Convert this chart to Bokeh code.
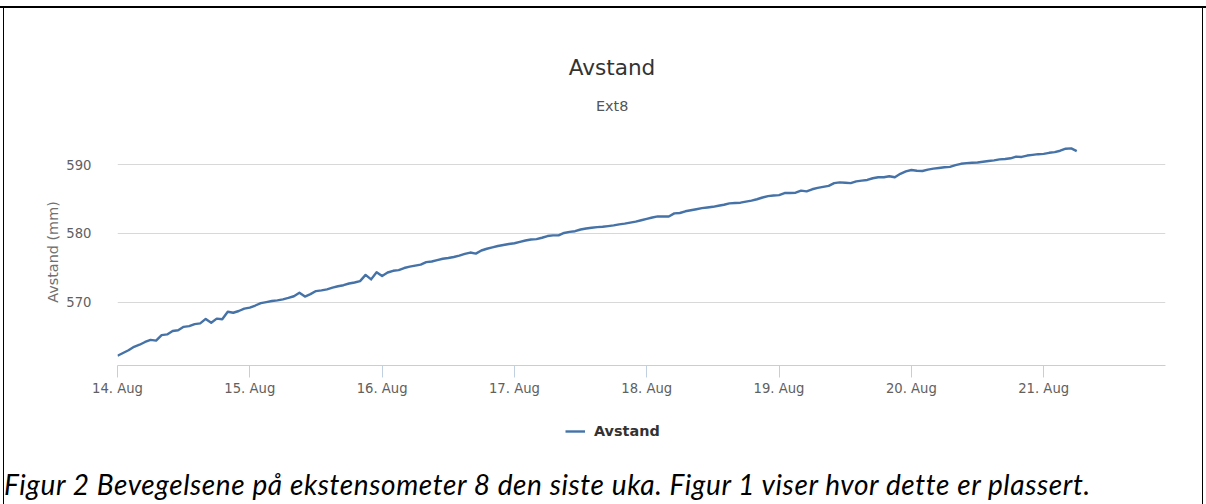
import pandas as pd
from bokeh.plotting import figure
from bokeh.layouts import column
from bokeh.models import (Range1d, DaysTicker, DatetimeTickFormatter, SingleIntervalTicker,
                          Legend, LegendItem, Label, Div)
from bokeh.embed import file_html
from bokeh.resources import INLINE

# ---- data (hourly readings) ----
start_time = "2014-08-14 00:00"
avstand_mm = [
    562.2, 562.6, 563.0, 563.5, 563.8, 564.2, 564.5, 564.4, 565.2, 565.3,
    565.8, 565.9, 566.4, 566.5, 566.8, 566.9, 567.55, 567.0, 567.6, 567.5,
    568.6, 568.45, 568.7, 569.05, 569.2, 569.5, 569.85, 570.0, 570.15, 570.25,
    570.4, 570.6, 570.85, 571.35, 570.8, 571.15, 571.6, 571.7, 571.85, 572.1,
    572.3, 572.45, 572.7, 572.85, 573.05, 573.95, 573.3, 574.35, 573.8, 574.3,
    574.55, 574.65, 574.95, 575.15, 575.3, 575.45, 575.8, 575.9, 576.1, 576.3,
    576.4, 576.55, 576.75, 577.0, 577.2, 577.05, 577.5, 577.75, 577.95, 578.15,
    578.3, 578.45, 578.55, 578.75, 578.95, 579.1, 579.15, 579.35, 579.6, 579.7,
    579.7, 580.05, 580.2, 580.3, 580.55, 580.7, 580.8, 580.9, 580.95, 581.05,
    581.15, 581.3, 581.4, 581.55, 581.7, 581.9, 582.1, 582.3, 582.45, 582.45,
    582.45, 582.9, 582.95, 583.2, 583.35, 583.5, 583.65, 583.75, 583.85, 584.0,
    584.15, 584.35, 584.4, 584.45, 584.6, 584.75, 584.95, 585.2, 585.4, 585.5,
    585.55, 585.85, 585.85, 585.9, 586.2, 586.1, 586.4, 586.6, 586.75, 586.9,
    587.3, 587.4, 587.35, 587.3, 587.55, 587.65, 587.75, 588.0, 588.15, 588.15,
    588.3, 588.15, 588.65, 589.0, 589.2, 589.1, 589.05, 589.25, 589.4, 589.5,
    589.6, 589.65, 589.9, 590.1, 590.2, 590.25, 590.3, 590.4, 590.5, 590.6,
    590.75, 590.8, 590.9, 591.15, 591.1, 591.3, 591.4, 591.5, 591.55, 591.7,
    591.8, 592.0, 592.3, 592.35, 591.95,
]
times = pd.date_range(start_time, periods=len(avstand_mm), freq="h")

title_text = "Avstand"
subtitle_text = "Ext8"
y_title = "Avstand (mm)"
series_name = "Avstand"
caption_text = "Figur 2 Bevegelsene på ekstensometer 8 den siste uka. Figur 1 viser hvor dette er plassert."

x_start = pd.Timestamp("2014-08-14 00:00")
x_end = pd.Timestamp("2014-08-21 22:06")
y_min, y_max = 560.78, 593.78

FONT = "DejaVu Sans"
LINE_COLOR = "#4572A7"
W = 1206
ML, MR = 117, 41          # left / right margins shared by every row (frames line up)

# heights of the stacked rows (they add up to 504)
H_TOP, H_CHART, H_LEG, H_CAP = 138, 262, 67, 37


def border_styles(top_line=False):
    imgs = ["linear-gradient(#000,#000)", "linear-gradient(#000,#000)"]
    sizes = ["1px 100%", "1px 100%"]
    pos = ["3px 0px", "1202px 0px"]
    if top_line:
        pos = ["3px 6px", "1202px 6px"]
        imgs.append("linear-gradient(#000,#000)")
        sizes.append("100% 2px")
        pos.append("0px 6px")
    return {
        "background-color": "white",
        "background-image": ", ".join(imgs),
        "background-size": ", ".join(sizes),
        "background-position": ", ".join(pos),
        "background-repeat": "no-repeat",
    }


def blank_figure(height):
    f = figure(width=W, height=height, output_backend="svg", toolbar_location=None, tools="",
               x_range=Range1d(0, 1), y_range=Range1d(0, 1),
               x_axis_location=None, y_axis_location=None,
               min_border_left=ML, min_border_right=MR, min_border_top=0, min_border_bottom=0)
    f.grid.visible = False
    f.outline_line_color = None
    f.background_fill_alpha = 0.0
    f.border_fill_alpha = 0.0
    return f


# ---- title row (label x is measured from the frame's left edge at x=ML) ----
top = blank_figure(H_TOP)
top.styles = border_styles(top_line=True)
top.add_layout(Label(x=611.5 - ML, y=H_TOP - 73.3 + 6.5, x_units="screen", y_units="screen",
                     text=title_text, text_align="center", text_baseline="alphabetic",
                     text_font=FONT, text_font_size="21.6px", text_color="#333333"))
top.add_layout(Label(x=611.7 - ML, y=H_TOP - 110.7 + 5.0, x_units="screen", y_units="screen",
                     text=subtitle_text, text_align="center", text_baseline="alphabetic",
                     text_font=FONT, text_font_size="14.4px", text_color="#555555"))

# ---- chart row ----
p = figure(width=W, height=H_CHART, x_axis_type="datetime", output_backend="svg",
           toolbar_location=None, tools="",
           x_range=Range1d(x_start, x_end), y_range=Range1d(y_min, y_max),
           min_border_left=ML, min_border_right=MR, min_border_top=0,
           min_border_bottom=H_CHART - 227)
p.background_fill_color = "white"
p.border_fill_alpha = 0.0
p.outline_line_color = None
p.styles = border_styles()

r = p.line(times, avstand_mm, line_color=LINE_COLOR, line_width=2.4, line_join="round")

xa = p.xaxis[0]
xa.ticker = DaysTicker(days=list(range(1, 32)))
xa.formatter = DatetimeTickFormatter(days="%d. %b", months="%d. %b", hours="%d. %b")
xa.axis_line_color = "#C0D0E0"
xa.major_tick_line_color = "#C0D0E0"
xa.major_tick_out = 12
xa.major_tick_in = 0
xa.minor_tick_line_color = None
xa.major_label_standoff = 3
xa.major_label_text_font = FONT
xa.major_label_text_font_size = "13.2px"
xa.major_label_text_color = "#606060"
p.xgrid.grid_line_color = None

ya = p.yaxis[0]
ya.ticker = SingleIntervalTicker(interval=10)
ya.axis_line_color = None
ya.major_tick_line_color = None
ya.minor_tick_line_color = None
ya.major_label_standoff = 20
ya.major_label_text_font = FONT
ya.major_label_text_font_size = "13.2px"
ya.major_label_text_color = "#606060"
ya.axis_label = y_title
ya.axis_label_text_font = FONT
ya.axis_label_text_font_size = "14.4px"
ya.axis_label_text_font_style = "normal"
ya.axis_label_text_color = "#707070"
ya.axis_label_standoff = 2
p.ygrid.grid_line_color = "#D8D8D8"
p.ygrid.grid_line_width = 1

# ---- legend row: the same series, outside this row's visible ranges, gives the key ----
leg = blank_figure(H_LEG)
leg.styles = border_styles()
key = leg.line(times, avstand_mm, line_color=LINE_COLOR, line_width=2.4)
legend = Legend(items=[LegendItem(label=series_name, renderers=[key])],
                location=(565 - ML, 26), orientation="horizontal",
                padding=0, margin=0, spacing=0,
                glyph_width=20, glyph_height=20, label_standoff=9,
                label_text_font=FONT, label_text_font_size="14.4px",
                label_text_font_style="bold", label_text_color="#333333",
                border_line_color=None, background_fill_alpha=0)
leg.add_layout(legend)

# ---- caption row ----
caption = Div(
    text=('<div style="font-family: Lato, sans-serif; font-style: italic; font-size: 28px; '
          'letter-spacing: 0.6px; line-height: 34px; padding-left: 4px; white-space: nowrap; '
          'color: #000; margin: 0;">' + caption_text + '</div>'),
    width=W, height=H_CAP, margin=0,
    styles=border_styles(),
)

page = column(top, p, leg, caption, spacing=0)

open("out.html", "w").write(file_html(page, INLINE))
